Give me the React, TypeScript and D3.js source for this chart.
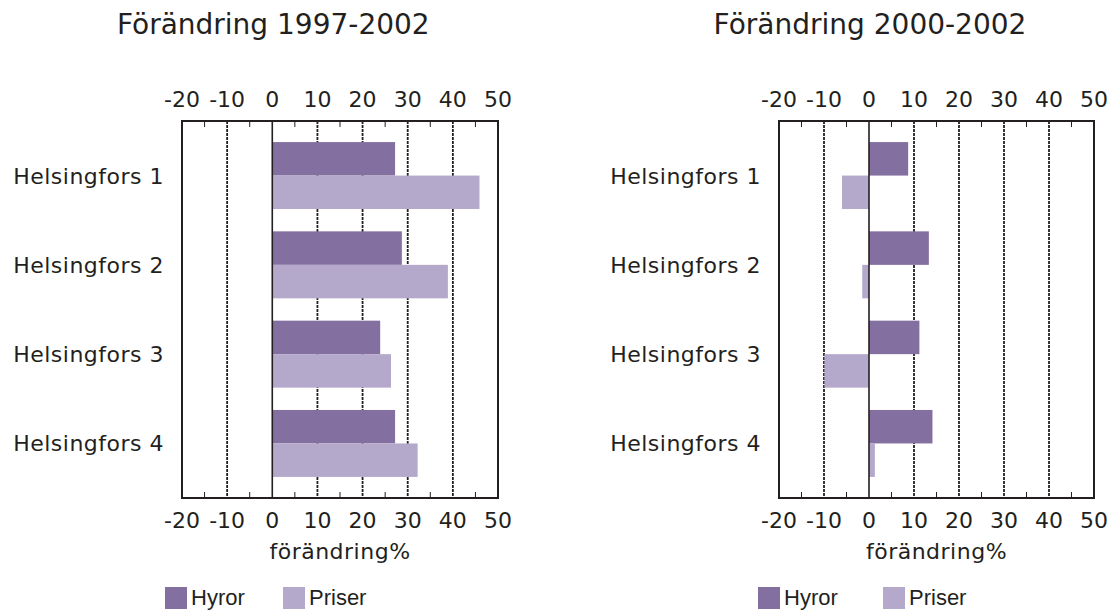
import React from 'react';
import * as d3 from 'd3';

const categories = ['Helsingfors 1', 'Helsingfors 2', 'Helsingfors 3', 'Helsingfors 4'];
const seriesNames = ['Hyror', 'Priser'];

// Förändring 1997-2002
const hyror9702 = [27.2, 28.7, 23.9, 27.2];
const priser9702 = [45.9, 38.9, 26.3, 32.2];

// Förändring 2000-2002
const hyror0002 = [8.7, 13.3, 11.2, 14.1];
const priser0002 = [-6.0, -1.5, -9.9, 1.3];

const xTicks = [-20, -10, 0, 10, 20, 30, 40, 50];
const minorTicks = [-15, -5, 5, 15, 25, 35, 45];

const COLORS = ['#836fa0', '#b4a9cb'];
const INK = '#231f20';
const FONT = '"DejaVu Sans", Verdana, sans-serif';
const LEGEND_FONT = '"Liberation Sans", Arial, sans-serif';

interface PanelProps {
  title: string;
  hyror: number[];
  priser: number[];
  x0: number;
  x1: number;
  legendX: [number, number];
}

const TOP = 121;
const BOTTOM = 498;

const Panel: React.FC<PanelProps> = ({ title, hyror, priser, x0, x1, legendX }) => {
  const x = d3.scaleLinear().domain([-20, 50]).range([x0, x1]);
  const y = d3.scaleBand<string>()
    .domain(categories)
    .range([TOP, BOTTOM])
    .paddingInner(0.25)
    .paddingOuter(0.236);
  const ySub = d3.scaleBand<string>().domain(seriesNames).range([0, y.bandwidth()]);

  const rows = categories.map((c, i) => ({ c, vals: [hyror[i], priser[i]] }));

  return (
    <g>
      <text x={x(0) + 1} y={34} textAnchor="middle" fontSize={28} fontFamily={FONT} fill={INK}>
        {title}
      </text>

      {/* gridlines */}
      {xTicks.filter(t => t !== 0 && t !== -20 && t !== 50).map(t => (
        <line key={'g' + t} x1={x(t)} x2={x(t)} y1={TOP} y2={BOTTOM}
          stroke={INK} strokeWidth={1.8} strokeDasharray="3,1" />
      ))}

      {/* minor ticks */}
      {minorTicks.map(t => (
        <g key={'m' + t}>
          <line x1={x(t)} x2={x(t)} y1={TOP} y2={TOP + 6} stroke={INK} strokeWidth={1} />
          <line x1={x(t)} x2={x(t)} y1={BOTTOM} y2={BOTTOM - 6} stroke={INK} strokeWidth={1} />
        </g>
      ))}

      {/* bars */}
      {rows.map(r => (
        <g key={r.c} transform={`translate(0,${y(r.c)})`}>
          {r.vals.map((v, j) => (
            <rect key={j}
              x={x(Math.min(0, v))}
              width={Math.abs(x(v) - x(0))}
              y={ySub(seriesNames[j])}
              height={ySub.bandwidth()}
              fill={COLORS[j]} />
          ))}
        </g>
      ))}

      {/* zero line */}
      <line x1={x(0)} x2={x(0)} y1={TOP} y2={BOTTOM} stroke={INK} strokeWidth={1.6} />

      {/* frame */}
      <rect x={x0} y={TOP} width={x1 - x0} height={BOTTOM - TOP} fill="none" stroke={INK} strokeWidth={2} />

      {/* category labels */}
      {categories.map(c => (
        <text key={c} x={x0 - 18} y={(y(c) ?? 0) + y.bandwidth() / 2 + 8}
          textAnchor="end" fontSize={22} letterSpacing={0.5} fontFamily={FONT} fill={INK}>{c}</text>
      ))}

      {/* tick labels */}
      {xTicks.map(t => (
        <g key={'t' + t}>
          <text x={x(t)} y={107} textAnchor="middle" fontSize={22} fontFamily={FONT} fill={INK}>{t}</text>
          <text x={x(t)} y={528} textAnchor="middle" fontSize={22} fontFamily={FONT} fill={INK}>{t}</text>
        </g>
      ))}

      <text x={(x0 + x1) / 2} y={559} textAnchor="middle" fontSize={22} letterSpacing={0.5} fontFamily={FONT} fill={INK}>
        förändring%
      </text>

      {/* legend */}
      {seriesNames.map((s, j) => (
        <g key={s} transform={`translate(${legendX[j]},0)`}>
          <rect x={0} y={587} width={22} height={22} fill={COLORS[j]} />
          <text x={26} y={605} fontSize={22} fontFamily={LEGEND_FONT} fill={INK}>{s}</text>
        </g>
      ))}
    </g>
  );
};

export default function App() {
  return (
    <svg width={1110} height={610} style={{ position: 'absolute', left: 0, top: 0, background: '#fff' }}>
      <Panel title="Förändring 1997-2002" hyror={hyror9702} priser={priser9702}
        x0={182} x1={498} legendX={[165, 283]} />
      <Panel title="Förändring 2000-2002" hyror={hyror0002} priser={priser0002}
        x0={779} x1={1094} legendX={[758, 883]} />
    </svg>
  );
}
